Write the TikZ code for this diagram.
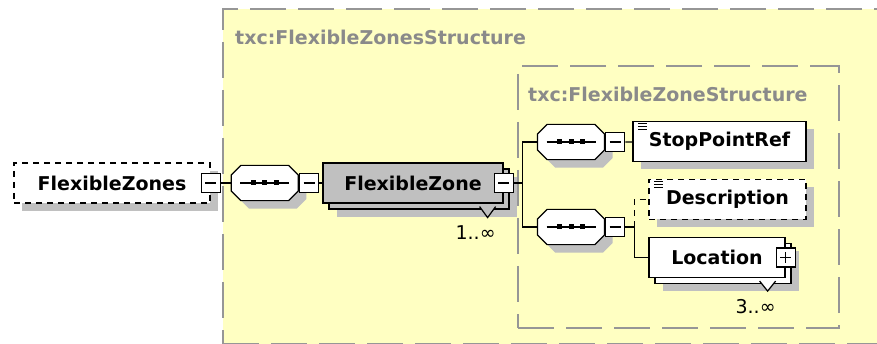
\documentclass[tikz,border=0pt]{standalone}
\usepackage{fontspec}
\setmainfont{DejaVu Sans}
\usetikzlibrary{shapes.misc,shadows,positioning}

\definecolor{zoneyellow}{RGB}{255,255,194}
\definecolor{framegray}{RGB}{150,150,150}
\definecolor{titlegray}{RGB}{138,138,138}
\definecolor{shadowgray}{RGB}{192,192,192}

\begin{document}
\begin{tikzpicture}[x=1pt, y=-1pt,
    font=\fontsize{19}{23}\selectfont\bfseries,
    every node/.style={inner sep=0pt},
    group/.style={rectangle, draw=framegray, line width=2pt, dash pattern=on 36pt off 12pt, fill=zoneyellow, anchor=north west},
    grouptitle/.style={text=titlegray, anchor=west},
    dropshadow/.style={general shadow={fill=shadowgray, shadow xshift=8pt, shadow yshift=-8pt}},
    elem/.style={rectangle, draw, line width=1.2pt, fill=white, minimum height=40pt, dropshadow},
    optional/.style={elem, dash pattern=on 6pt off 5pt},
    simple/.style={path picture={
        \foreach \dy in {2,5,8}
          \draw[solid, line width=1pt] ([shift={(5pt,-\dy pt)}]path picture bounding box.north west) -- ++(9pt,0pt);}},
    multi/.style={rectangle, draw, line width=1.2pt, fill=#1, minimum height=40pt,
        general shadow={fill=shadowgray, shadow xshift=14pt, shadow yshift=-14pt},
        general shadow={draw, fill=#1, line width=1.2pt, shadow xshift=6pt, shadow yshift=-6pt}},
    seq/.style={chamfered rectangle, chamfered rectangle xsep=6pt,
        inner xsep=27.5pt, inner ysep=14pt, minimum width=0pt, minimum height=0pt,
        draw, line width=1.2pt, fill=white, dropshadow,
        path picture={
          \draw[black, line width=1.2pt] ([xshift=9pt]path picture bounding box.west) -- ([xshift=-9pt]path picture bounding box.east);
          \foreach \dx in {-11.5,0,11.5}
            \fill[black] ([xshift=\dx pt]path picture bounding box.center) +(-2.5pt,-2.5pt) rectangle +(2.5pt,2.5pt);}},
    togglebox/.style={rectangle, draw, line width=1.2pt, fill=white, minimum size=19pt},
    minusbox/.style={togglebox,
        path picture={\draw[line width=1.2pt] ([xshift=4pt]path picture bounding box.west) -- ([xshift=-4pt]path picture bounding box.east);}},
    plusbox/.style={togglebox,
        path picture={\draw[line width=1.2pt] ([xshift=4pt]path picture bounding box.west) -- ([xshift=-4pt]path picture bounding box.east);
          \draw[line width=1.2pt] ([yshift=-4pt]path picture bounding box.north) -- ([yshift=4pt]path picture bounding box.south);}},
    mult/.style={font=\fontsize{19}{23}\selectfont\mdseries},
    link/.style={line width=1.2pt},
    vmark/.style={line width=1.2pt, fill=#1}
]
    \clip (0,0) rectangle (877,344);

    % groups
    \node[group, minimum width=680pt, minimum height=335pt] (outer) at (222,8) {};
    \node[grouptitle] (outertitle) at ([shift={(13pt,-29pt)}]outer.north west) {txc:FlexibleZonesStructure};
    \node[group, minimum width=321pt, minimum height=262pt] (inner) at (517,65) {};
    \node[grouptitle] (innertitle) at ([shift={(11pt,-29pt)}]inner.north west) {txc:FlexibleZoneStructure};

    % elements
    \node[optional, minimum width=196pt] (zones) at (112,183) {FlexibleZones};
    \node[minusbox] (m0) at (zones.east) {};
    \node[seq, right=10pt of m0] (s1) {};
    \node[minusbox, right=0pt of s1] (m1) {};
    \node[multi=shadowgray, minimum width=180pt] (zone) at (413,183) {FlexibleZone};
    \node[minusbox] (m2) at (zone.east) {};
    \draw[vmark=shadowgray] ([shift={(-24pt,-3pt)}]zone.south east) -- ([shift={(-16pt,-14pt)}]zone.south east) -- ([shift={(-8pt,-3pt)}]zone.south east);
    \node[mult] (n1) at ([shift={(-28pt,-29pt)}]zone.south east) {1..∞};

    \node[seq] (s2) at (571,142) {};
    \node[minusbox, right=0pt of s2] (m3) {};
    \node[seq] (s3) at (571,227) {};
    \node[minusbox, right=0pt of s3] (m4) {};

    \node[elem, simple, minimum width=173pt] (stop) at (719.5,141.5) {StopPointRef};
    \node[optional, simple, minimum width=157pt] (desc) at (727.5,199.5) {Description};
    \node[multi=white, minimum width=136pt] (loc) at (717,257.5) {Location};
    \node[plusbox] (p0) at (loc.east) {};
    \draw[vmark=white] ([shift={(-26pt,-3pt)}]loc.south east) -- ([shift={(-18pt,-13pt)}]loc.south east) -- ([shift={(-10pt,-3pt)}]loc.south east);
    \node[mult] (n2) at ([shift={(-30pt,-28pt)}]loc.south east) {3..∞};

    % connectors
    \coordinate[right=9pt of m2] (bus);
    \coordinate[right=9pt of m4] (fork);
    \draw[link] (m0) -- (s1);
    \draw[link] (m1) -- (zone);
    \draw[link] (m2) -- (bus);
    \draw[link] (s2.west) -| (bus) |- (s3.west);
    \draw[link] (m3) -- (stop);
    \draw[link] (m4) -- (fork) |- (loc);
    \draw[link, dash pattern=on 6pt off 5pt] (fork) |- (desc);
\end{tikzpicture}
\end{document}
